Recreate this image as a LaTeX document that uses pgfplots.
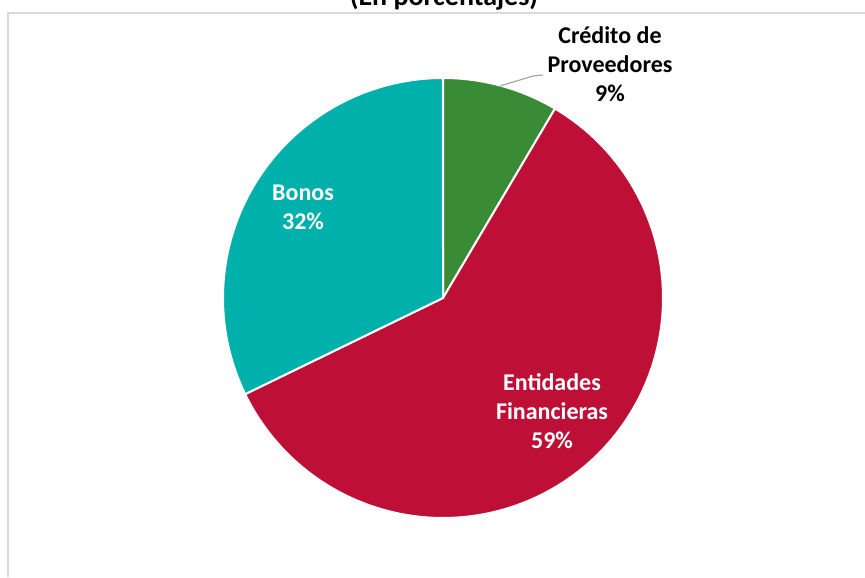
\documentclass[border=0pt]{standalone}
\usepackage{fontspec}
\setmainfont{Carlito}
\usepackage{pgfplots}
\pgfplotsset{compat=1.18}
\definecolor{cgreen}{RGB}{58,139,53}
\definecolor{cred}{RGB}{190,16,54}
\definecolor{cteal}{RGB}{0,176,170}
\definecolor{cborder}{RGB}{217,217,217}
\definecolor{cleader}{RGB}{166,166,166}
\begin{document}
\begin{tikzpicture}
\clip (0,0) rectangle (432.5pt,288.5pt);
\begin{axis}[
  at={(0,0)}, anchor=south west,
  scale only axis, width=432.5pt, height=288.5pt,
  xmin=0, xmax=865, ymin=0, ymax=577,
  hide axis, clip=false,
]
% shares (percent): Credito de Proveedores 8.5, Entidades Financieras 59.3, Bonos 32.2
\addplot[fill=cgreen, draw=white, line width=1pt, line join=round, domain=90:{90-8.5*3.6}, samples=60]
  ({443+220*cos(x)},{279+220*sin(x)}) -- (axis cs:443,279) -- cycle;
\addplot[fill=cred, draw=white, line width=1pt, line join=round, domain={90-8.5*3.6}:{90-67.8*3.6}, samples=150]
  ({443+220*cos(x)},{279+220*sin(x)}) -- (axis cs:443,279) -- cycle;
\addplot[fill=cteal, draw=white, line width=1pt, line join=round, domain={90-67.8*3.6}:{-270}, samples=100]
  ({443+220*cos(x)},{279+220*sin(x)}) -- (axis cs:443,279) -- cycle;
% leader line
\addplot[cleader, line width=0.6pt] coordinates {(500,491) (533,501) (543,502)};
% border
\addplot[cborder, line width=1pt] coordinates {(8,0) (8,564) (866,564)};
% labels
\node[font=\bfseries\fontsize{12}{14.5}\selectfont, align=center] at (axis cs:610,513) {Crédito de\\Proveedores\\9\%};
\node[font=\bfseries\fontsize{12}{14.5}\selectfont, align=center, text=white] at (axis cs:303,370) {Bonos\\32\%};
\node[font=\bfseries\fontsize{12}{14.5}\selectfont, align=center, text=white] at (axis cs:552,166) {Entidades\\Financieras\\59\%};
\node[font=\bfseries\fontsize{14}{14.5}\selectfont, anchor=base] at (axis cs:444,571) {(En porcentajes)};
\end{axis}
\end{tikzpicture}
\end{document}
